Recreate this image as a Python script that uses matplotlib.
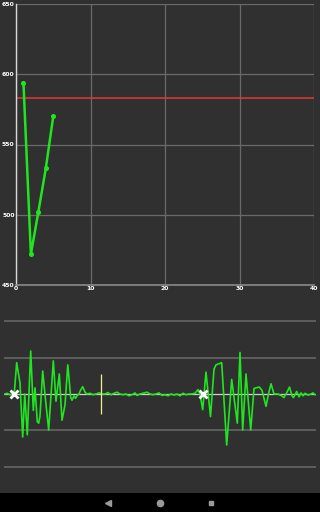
import matplotlib
matplotlib.use("Agg")
import matplotlib.pyplot as plt

# top chart: readings and threshold
reading_x = [1, 2, 3, 4, 5]
reading_y = [594, 472, 502, 533, 570]
threshold = 583
x_ticks = [0, 10, 20, 30, 40]
y_ticks = [450, 500, 550, 600, 650]

# bottom chart: waveform samples
wave_t = [5, 7, 10, 13, 14.5, 16.7, 18.5, 20, 22.7, 24.7, 27.3, 30.7, 33.3, 35, 37.3,
          38.7, 40, 42.7, 45.3, 48.7, 53.3, 56, 59.3, 62, 65, 67.8, 70.7, 72, 74, 75.5,
          77.5, 79, 80.5, 82.7, 85, 87, 90, 93, 96, 99, 102, 105, 108, 111, 114, 117,
          120, 123, 126, 129, 132, 135, 137, 140, 143, 147, 150, 153, 156, 159, 162,
          165, 168, 171, 174, 177, 180, 183, 186, 189, 192, 195, 198, 200, 202.7, 206,
          210.5, 214, 216, 221.7, 226.7, 231.7, 237.3, 240, 242.7, 246, 250.7, 254, 256,
          259.3, 262, 266, 268.5, 271, 274, 278, 281.7, 284, 287, 289.5, 292, 293.5,
          296.7, 299, 301, 303, 305, 308, 311, 313, 315]
wave_amp = [0, 0.02, -0.02, 0.0, 0.1, 0.86, 0.55, 0.3, -1.18, 0.0, -1.12, 1.18, -0.45,
            0.17, -0.76, -0.8, -0.6, 0.63, -0.1, -0.99, 0.91, -0.2, 0.55, -0.72, -0.3,
            0.8, -0.1, -0.17, -0.05, -0.12, -0.03, 0.0, 0.1, 0.2, 0.05, 0.0, 0.02, -0.02,
            0.0, 0.03, 0.0, 0.0, 0.04, -0.02, 0.02, 0.05, 0.0, -0.02, 0.0, -0.05, -0.02,
            0.03, -0.04, 0.0, 0.02, 0.05, 0.0, -0.02, 0.0, 0.03, -0.04, -0.02, -0.05, 0.0,
            -0.03, 0.0, -0.05, 0.02, -0.02, 0.0, 0.0, 0.02, 0.12, 0.0, -0.43, 0.6, -0.62,
            0.68, 0.8, 0.86, -1.4, 0.4, -0.8, 1.14, -0.99, 0.55, -0.99, 0.15, 0.17, 0.19,
            0.1, -0.34, 0.0, 0.28, 0.0, 0.0, -0.05, -0.1, 0.05, 0.19, -0.05, -0.1, 0.07,
            -0.08, 0.03, -0.05, 0.02, -0.03, 0.0, 0.03, -0.02]
cross_t = [14, 203]
cursor_t = 101
cursor_half = 0.56
level_lines = [-2, -1, 1, 2]

BG = "#303030"
GREEN = "#1fe61f"
GRID = "#6a6a6a"

fig = plt.figure(figsize=(3.2, 5.12), dpi=100, facecolor=BG)

# ---- top chart ----
ax = fig.add_axes([16 / 320, (512 - 285) / 512, 298 / 320, 281 / 512], facecolor=BG)
ax.set_xlim(0, 40)
ax.set_ylim(450, 650)
ax.set_xticks(x_ticks)
ax.set_yticks(y_ticks)
ax.grid(True, color=GRID, linewidth=0.9)
ax.tick_params(length=0, pad=1, labelsize=4.4, colors="white")
for lab in ax.get_xticklabels() + ax.get_yticklabels():
    lab.set_fontweight("bold")
for side in ["top", "right"]:
    ax.spines[side].set_visible(False)
ax.spines["left"].set_color("#d8d8d8")
ax.spines["left"].set_linewidth(1.0)
ax.spines["bottom"].set_color("#8a8a8a")
ax.spines["bottom"].set_linewidth(1.2)
ax.axhline(threshold, color="#e53935", linewidth=1.1)
ax.plot(reading_x, reading_y, color=GREEN, linewidth=1.8, marker="o", markersize=2.6)

# ---- bottom chart ----
ax2 = fig.add_axes([4 / 320, (512 - 476) / 512, 312 / 320, 164 / 512], facecolor=BG)
ax2.set_xlim(4, 316)
ax2.set_ylim(-2.25, 2.25)
ax2.axis("off")
for lv in level_lines:
    ax2.axhline(lv, color=GRID, linewidth=1.1)
ax2.axhline(0, color="#d0d0d0", linewidth=0.9)
ax2.plot(wave_t, wave_amp, color=GREEN, linewidth=1.2)
ax2.vlines(cursor_t, -cursor_half, cursor_half, color="#f0f08a", linewidth=0.9)
ax2.plot(cross_t, [0] * len(cross_t), linestyle="none", marker="x",
         color="white", markersize=6, markeredgewidth=2)

# ---- navigation bar ----
nav = fig.add_axes([0, 0, 1, 19 / 512], facecolor="black")
nav.set_xlim(0, 320)
nav.set_ylim(0, 19)
nav.set_xticks([])
nav.set_yticks([])
for s in nav.spines.values():
    s.set_visible(False)
nav.plot([108], [9.5], marker="<", color="#9a9a9a", markersize=4, linestyle="none")
nav.plot([160], [9.5], marker="o", color="#9a9a9a", markersize=4.5, linestyle="none")
nav.plot([211], [9.5], marker="s", color="#9a9a9a", markersize=3.5, linestyle="none")

fig.savefig("out.png", dpi=100, facecolor=BG)
